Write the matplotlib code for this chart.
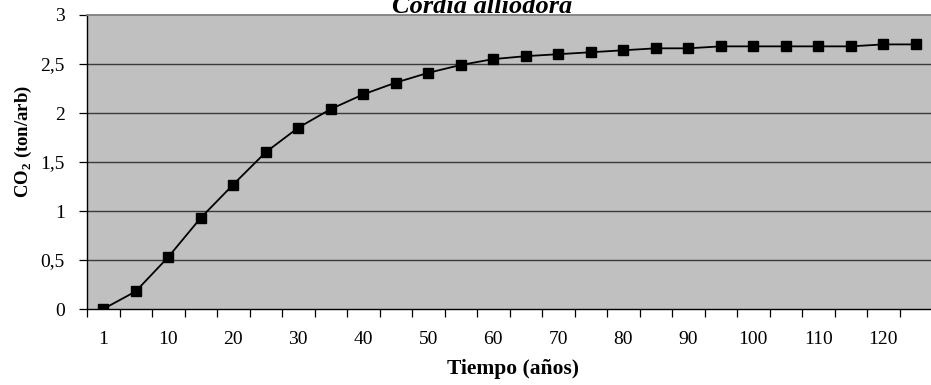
import matplotlib
matplotlib.use('agg')
import matplotlib.pyplot as plt
import numpy as np

# Cordia alliodora carbon accumulation curve
anos = [1, 5, 10, 15, 20, 25, 30, 35, 40, 45, 50, 55, 60, 65, 70, 75, 80,
        85, 90, 95, 100, 105, 110, 115, 120, 125]
co2 = [0.0, 0.18, 0.53, 0.93, 1.27, 1.60, 1.85, 2.04, 2.19, 2.31, 2.41, 2.49,
       2.55, 2.58, 2.60, 2.62, 2.64, 2.66, 2.66, 2.68, 2.68, 2.68, 2.68, 2.68,
       2.70, 2.70]
yticks = [0, 0.5, 1, 1.5, 2, 2.5, 3]
ylabels = ['0', '0,5', '1', '1,5', '2', '2,5', '3']

plt.rcParams['font.family'] = ['Liberation Serif', 'DejaVu Serif']

fig = plt.figure(figsize=(9.31, 3.85), dpi=100)
ax = fig.add_axes([87/931, 76/385, 845/931, 294/385])
ax.set_facecolor('#c0c0c0')

pos = np.arange(len(anos))
ax.plot(pos, co2, color='black', lw=1.3, marker='s', ms=7.5,
        mfc='black', mec='black', zorder=3)

ax.set_xlim(-0.5, len(anos) - 0.5)
ax.set_ylim(0, 3)

# category boundaries carry the tick marks, labels on every other category
ax.set_xticks(np.arange(len(anos) + 1) - 0.5)
ax.set_xticklabels([])
ax.set_xticks(pos[::2], minor=True)
ax.set_xticklabels([str(a) for a in anos[::2]], minor=True, fontsize=14)
ax.tick_params(axis='x', which='major', length=6, width=0.9, direction='out')
ax.tick_params(axis='x', which='minor', length=0, pad=15.5)

ax.set_yticks(yticks)
ax.set_yticklabels(ylabels, fontsize=14)
ax.tick_params(axis='y', length=6, width=0.9, direction='out', pad=10)

for v in yticks[1:-1]:
    ax.axhline(v, color='#3a3a3a', lw=1.0, zorder=1)

for s in ['left', 'bottom']:
    ax.spines[s].set_color('black')
    ax.spines[s].set_linewidth(1.0)
ax.spines['top'].set_color('#808080')
ax.spines['top'].set_linewidth(1.3)
ax.spines['right'].set_color('#808080')

ax.set_xlabel('Tiempo (años)', fontsize=15.5, fontweight='bold')
ax.xaxis.label.set_va('center')
ax.xaxis.set_label_coords(0.504, -0.204)
ax.set_ylabel('CO$_\\mathregular{2}$ (ton/arb)', fontsize=13.5, fontweight='bold')
ax.yaxis.label.set_va('center')
ax.yaxis.set_label_coords(-0.0757, 0.571)

fig.text(482/931, 1 - 13/385, 'Cordia alliodora', ha='center', va='baseline',
         fontsize=19, fontweight='bold', fontstyle='italic')

plt.savefig('out.png', dpi=100)
